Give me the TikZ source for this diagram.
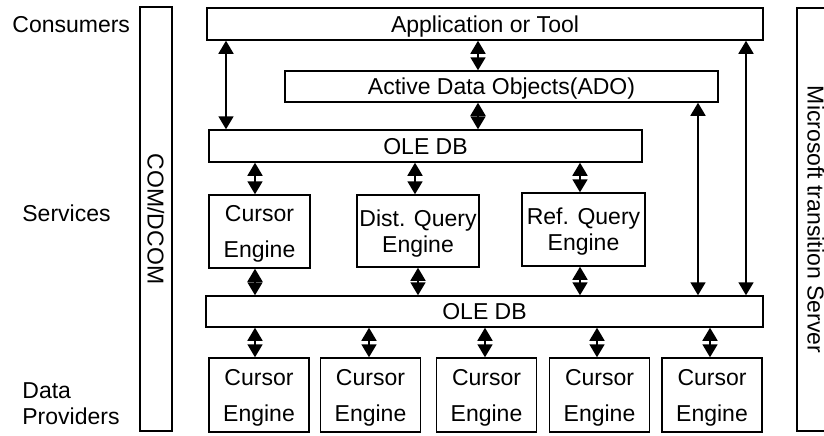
\documentclass[tikz,border=0pt]{standalone}
\usepackage{fontspec}
\setmainfont{Liberation Sans}
\usetikzlibrary{arrows.meta}
\begin{document}
\begin{tikzpicture}[x=0.5pt,y=-0.5pt,
    every node/.style={font=\fontsize{11.5}{13}\selectfont},
    box/.style={draw,line width=0.75pt,inner sep=0pt,align=center,text depth=0pt},
    lbl/.style={anchor=west,inner sep=0pt,align=left},
    dbl/.style={{Triangle[width=7.5pt,length=6.5pt]}-{Triangle[width=7.5pt,length=6.5pt]},line width=0.9pt}]
     \useasboundingbox (0,0) rectangle (824,435);
     \clip (0,0) rectangle (824,435);
     \node[lbl] (cons) at (12,25) {Consumers};
     \node[lbl] (serv) at (22,213) {Services};
     \node[lbl] (prov) at (22,404) {Data\\Providers};
     \node[box,rotate=-90,minimum width=212pt,minimum height=16pt] (com) at (156,219) {COM/DCOM};
     \node[box,rotate=-90,minimum width=211.5pt,minimum height=19pt] (mts) at (816,219.5) {Microsoft transition Server};
     \node[box,minimum width=278pt,minimum height=16pt] (app) at (485,24) {Application or Tool};
     \node[box,minimum width=216.5pt,minimum height=15.5pt] (ado) at (501.5,86.5) {Active Data Objects(ADO)};
     \node[box,minimum width=216.5pt,minimum height=16pt] (oledb1) at (425.5,146) {OLE DB};
     \node[box,minimum width=50.5pt,minimum height=36.5pt] (cur) at (259.5,231.5) {Cursor\\[5pt]Engine};
     \node[box,minimum width=61pt,minimum height=36pt] (dist) at (418,231) {Dist. Query\\Engine};
     \node[box,minimum width=61.5pt,minimum height=36.5pt] (ref) at (583.5,229.5) {Ref. Query\\Engine};
     \node[box,minimum width=278.5pt,minimum height=15.5pt] (oledb2) at (484.5,311.5) {OLE DB};
     \foreach \n/\x in {p1/259,p2/370.5,p3/486.5,p4/599.5,p5/712}
       \node[box,minimum width=50pt,minimum height=37pt] (\n) at (\x,395) {Cursor\\[5pt]Engine};
     \draw[dbl] (app.south -| 226,0) -- (oledb1.north -| 226,0);
     \draw[dbl] (app.south -| 478,0) -- (ado.north -| 478,0);
     \draw[dbl] (ado.south -| 478,0) -- (oledb1.north -| 478,0);
     \draw[dbl] (oledb1.south -| 255,0) -- (cur.north -| 255,0);
     \draw[dbl] (oledb1.south -| 415,0) -- (dist.north -| 415,0);
     \draw[dbl] (oledb1.south -| 580,0) -- (ref.north -| 580,0);
     \draw[dbl] (cur.south -| 255,0) -- (oledb2.north -| 255,0);
     \draw[dbl] (dist.south -| 418,0) -- (oledb2.north -| 418,0);
     \draw[dbl] (ref.south -| 580,0) -- (oledb2.north -| 580,0);
     \draw[dbl] (ado.south -| 698,0) -- (oledb2.north -| 698,0);
     \draw[dbl] (app.south -| 746,0) -- (oledb2.north -| 746,0);
     \foreach \n/\x in {p1/255,p2/369,p3/485,p4/597,p5/710}
       \draw[dbl] (oledb2.south -| \x,0) -- (\n.north -| \x,0);
\end{tikzpicture}
\end{document}
